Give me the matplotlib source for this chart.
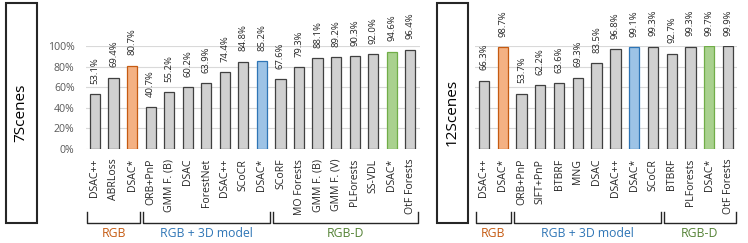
import matplotlib
matplotlib.use("Agg")
import matplotlib.pyplot as plt
from matplotlib.patches import Rectangle
from matplotlib.lines import Line2D

plt.rcParams['font.family'] = ['Open Sans', 'DejaVu Sans']

# ---- data ----
cats_7 = ["DSAC++", "ABRLoss", "DSAC*",
          "ORB+PnP", "GMM F. (B)", "DSAC", "ForestNet", "DSAC++", "SCoCR", "DSAC*",
          "SCoRF", "MO Forests", "GMM F. (B)", "GMM F. (V)", "PLForests", "SS-VDL", "DSAC*", "OtF Forests"]
vals_7 = [53.1, 69.4, 80.7,
          40.7, 55.2, 60.2, 63.9, 74.4, 84.8, 85.2,
          67.6, 79.3, 88.1, 89.2, 90.3, 92.0, 94.6, 96.4]
groups_7 = [3, 7, 8]
highlight_7 = {2: "orange", 9: "blue", 16: "green"}

cats_12 = ["DSAC++", "DSAC*",
           "ORB+PnP", "SIFT+PnP", "BTBRF", "MNG", "DSAC", "DSAC++", "DSAC*", "SCoCR",
           "BTBRF", "PLForests", "DSAC*", "OtF Forests"]
vals_12 = [66.3, 98.7,
           53.7, 62.2, 63.6, 69.3, 83.5, 96.8, 99.1, 99.3,
           92.7, 99.3, 99.7, 99.9]
groups_12 = [2, 8, 4]
highlight_12 = {1: "orange", 8: "blue", 12: "green"}

group_names = ["RGB", "RGB + 3D model", "RGB-D"]
yticks = [0, 20, 40, 60, 80, 100]
ytick_labels = ["0%", "20%", "40%", "60%", "80%", "100%"]

# ---- styles ----
fills = {"gray": "#d0d0d0", "orange": "#f4b183", "blue": "#9dc3e6", "green": "#a9d18e"}
edges = {"gray": "#404040", "orange": "#c55a11", "blue": "#2e75b6", "green": "#70ad47"}
group_colors = ["#c55a11", "#2e75b6", "#548235"]

W, H = 748, 243
fig = plt.figure(figsize=(W / 100, H / 100), dpi=100)


def px_to_fig(x0, y0, x1, y1):
    return [x0 / W, 1 - y1 / H, (x1 - x0) / W, (y1 - y0) / H]


def draw_panel(rect, cats, vals, groups, highlight, title, box, show_yticks):
    ax = fig.add_axes(px_to_fig(*rect))
    n = len(cats)
    xs = list(range(n))
    for i, v in enumerate(vals):
        key = highlight.get(i, "gray")
        ax.bar(i, v, width=0.55, color=fills[key], edgecolor=edges[key],
               linewidth=0.9, zorder=3)
        ax.annotate(f"{v:.1f}%", (i, v), xytext=(0, 7.5), textcoords="offset points",
                    rotation=90, ha="center", va="bottom", fontsize=6.8,
                    color="#262626", annotation_clip=False)
    ax.set_xlim(-0.5, n - 0.5)
    ax.set_ylim(0, 100)
    ax.set_yticks(yticks)
    ax.grid(axis="y", color="#d9d9d9", linewidth=0.8, zorder=0)
    ax.set_axisbelow(True)
    for s in ["top", "right", "left", "bottom"]:
        ax.spines[s].set_visible(False)
    ax.set_xticks(xs)
    ax.set_xticklabels(cats, rotation=90, fontsize=7.6, color="#262626", va="top")
    ax.tick_params(axis="x", length=0, pad=7)
    ax.tick_params(axis="y", length=0, pad=8)
    if show_yticks:
        ax.set_yticklabels(ytick_labels, fontsize=7.6, color="#595959")
    else:
        ax.set_yticklabels([])

    # brackets
    start = 0
    trans = ax.get_xaxis_transform()
    y_tip = (149 - 212) / (149 - 46)
    y_bot = (149 - 222.5) / (149 - 46)
    y_lab = (149 - 233) / (149 - 46)
    for g, cnt, col in zip(range(3), groups, group_colors):
        x0 = start - 0.5 + 0.08
        x1 = start + cnt - 0.5 - 0.08
        ax.add_line(Line2D([x0, x0, x1, x1], [y_tip, y_bot, y_bot, y_tip],
                           transform=trans, color="#262626", linewidth=1.0,
                           clip_on=False))
        ax.text((x0 + x1) / 2, y_lab, group_names[g], transform=trans,
                ha="center", va="center", fontsize=8.8, color=col, clip_on=False)
        start += cnt

    # title box
    bx0, by0, bx1, by1 = box
    fig.patches.append(Rectangle((bx0 / W, 1 - by1 / H), (bx1 - bx0) / W, (by1 - by0) / H,
                                 transform=fig.transFigure, fill=False,
                                 edgecolor="#262626", linewidth=1.5))
    fig.text((bx0 + bx1) / 2 / W, 1 - (by0 + by1) / 2 / H, title, rotation=90,
             ha="center", va="center", fontsize=11, color="#000000")
    return ax


draw_panel((85.7, 46, 419.6, 149), cats_7, vals_7, groups_7, highlight_7,
           "7Scenes", (5.5, 3, 36.5, 222.5), True)
draw_panel((474.6, 46, 737.4, 149), cats_12, vals_12, groups_12, highlight_12,
           "12Scenes", (437, 3, 468, 222.5), False)

fig.savefig("out.png", dpi=100)
